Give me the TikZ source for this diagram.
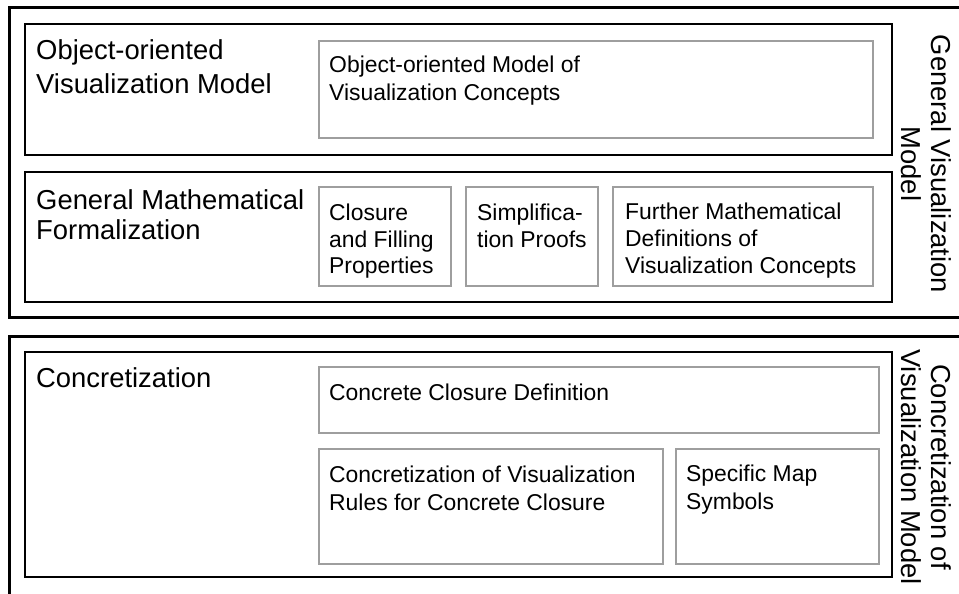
\documentclass[tikz,border=0pt]{standalone}
\usepackage{fontspec}
\setmainfont{Liberation Sans}
\usetikzlibrary{fit}
\begin{document}
\begin{tikzpicture}[x=1pt,y=-1pt,
  outerbox/.style={draw=black, line width=3pt, inner sep=0pt},
  inbox/.style={draw=black, line width=1.4pt, inner sep=0pt},
  graybox/.style={draw=black!38, line width=1.3pt, inner sep=0pt},
  big/.style={font=\fontsize{27.4}{#1}\selectfont, align=left, inner sep=0pt, anchor=north west},
  big/.default=32,
  small/.style={font=\fontsize{22.9}{#1}\selectfont, align=left, inner sep=0pt, anchor=north west},
  small/.default=27.5,
  side/.style={font=\fontsize{27.4}{30}\selectfont, align=center, inner sep=0pt, rotate=-90}]
\useasboundingbox (0,0) rectangle (959,594);
\clip (0,0) rectangle (959,594);
% outer frames (open to the right / bottom)
\node[outerbox, fit={(9,8) (990,317)}] (gvm) {};
\node[outerbox, fit={(9,336) (990,620)}] (cvm) {};
% inner frames
\node[inbox, fit={(25,24) (892,155)}] (oovm) {};
\node[inbox, fit={(25,172) (892,302)}] (gmf) {};
\node[inbox, fit={(25,352) (892,577)}] (conc) {};
% gray boxes
\node[graybox, fit={(319,41) (873,138)}] (oomb) {};
\node[graybox, fit={(319,187) (451,286)}] (clb) {};
\node[graybox, fit={(466,187) (598,286)}] (simb) {};
\node[graybox, fit={(613,187) (873,286)}] (furb) {};
\node[graybox, fit={(319,367) (879,433)}] (ccdb) {};
\node[graybox, fit={(319,449) (663,564)}] (cvrb) {};
\node[graybox, fit={(676,449) (879,564)}] (smsb) {};
% titles
\node[big=34] (oovmt) at (36,39) {Object-oriented\\Visualization Model};
\node[big=30] (gmft) at (36,189) {General Mathematical\\Formalization};
\node[big] (conct) at (36,367) {Concretization};
% box texts
\node[small=28] (oomt) at (329,56) {Object-oriented Model of\\Visualization Concepts};
\node[small=26.5] (clt) at (329,204) {Closure\\and Filling\\Properties};
\node[small=26.5] (simt) at (477,204) {Simplifica-\\tion Proofs};
\node[small=27] (furt) at (625,203) {Further Mathematical\\Definitions of\\Visualization Concepts};
\node[small] (ccdt) at (329,384) {Concrete Closure Definition};
\node[small=28] (cvrt) at (329,466) {Concretization of Visualization\\Rules for Concrete Closure};
\node[small=28] (smst) at (686,465) {Specific Map\\Symbols};
% side labels
\node[side] (gvml) at (926,164) {General Visualization\\Model};
\node[side] (cvml) at (926,467) {Concretization of\\Visualization Model};
\end{tikzpicture}
\end{document}
